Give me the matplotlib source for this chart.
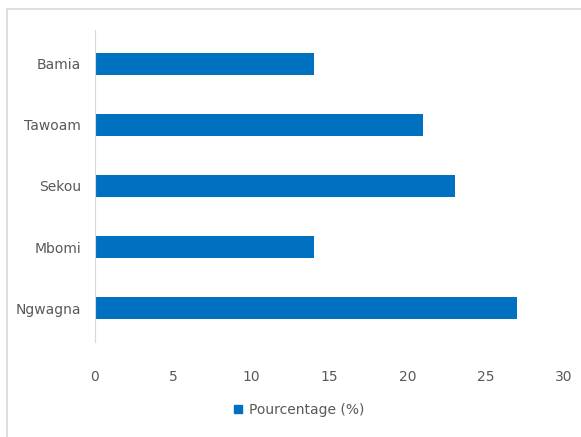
import matplotlib.pyplot as plt
from matplotlib.patches import Rectangle, Patch

# data (bottom to top)
villages = ["Ngwagna", "Mbomi", "Sekou", "Tawoam", "Bamia"]
pourcentage = [27, 14, 23, 21, 14]
xticks = [0, 5, 10, 15, 20, 25, 30]

plt.rcParams['font.family'] = ['Liberation Sans Narrow', 'DejaVu Sans']
grey = '#595959'

fig = plt.figure(figsize=(5.81, 4.37), dpi=100)
ax = fig.add_axes([0.1635, 0.2174, 0.8072, 0.714])

ax.barh(villages, pourcentage, height=0.36, color='#0070C0')
ax.set_xlim(0, 30)
ax.set_ylim(-0.55, 4.55)
ax.set_xticks(xticks)

for s in ['top', 'right', 'bottom']:
    ax.spines[s].set_visible(False)
ax.spines['left'].set_color('#d9d9d9')
ax.tick_params(axis='both', length=0, colors=grey, labelsize=10)
ax.tick_params(axis='x', pad=20)
ax.tick_params(axis='y', pad=10)

leg = fig.legend(handles=[Patch(color='#0070C0', label='Pourcentage (%)')],
                 loc='center', bbox_to_anchor=(0.515, 0.062), frameon=False,
                 fontsize=10, handlelength=0.6, handleheight=0.6, handletextpad=0.5)
for t in leg.get_texts():
    t.set_color(grey)

# chart border
fig.patches.append(Rectangle((7 / 581, -0.01), 1.0, 1 - 9 / 437 + 0.01,
                             transform=fig.transFigure, fill=False,
                             edgecolor='#d9d9d9', linewidth=1.2))

fig.savefig('out.png', dpi=100)
